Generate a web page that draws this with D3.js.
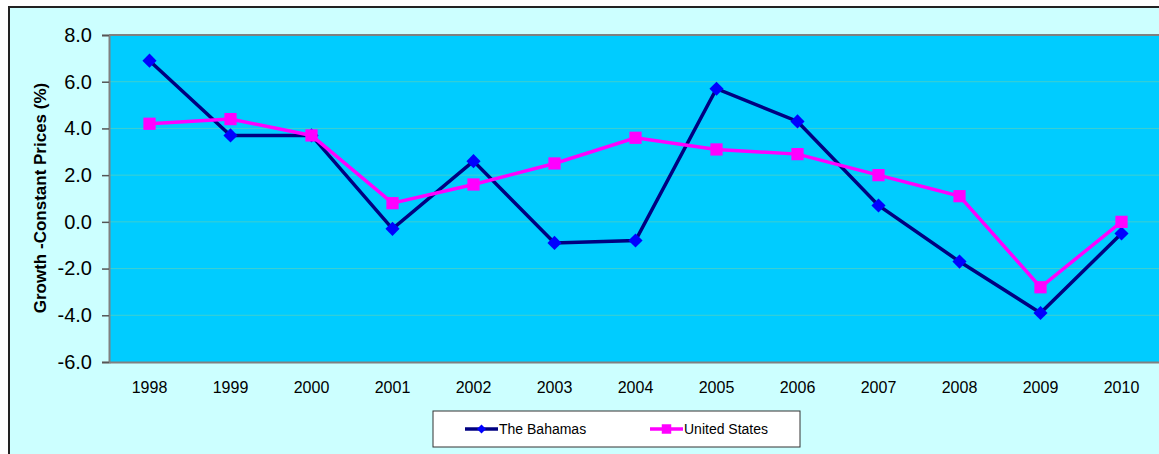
<!DOCTYPE html>
<html>
<head>
<meta charset="utf-8">
<script src="https://cdn.jsdelivr.net/npm/d3@7"></script>
<style>
  body{margin:0;padding:0;background:#fff;}
  svg{display:block;font-family:"Liberation Sans",Arial,sans-serif;}
</style>
</head>
<body>
<svg id="chart" width="1159" height="454"></svg>
<script>
// data
const years = ["1998","1999","2000","2001","2002","2003","2004","2005","2006","2007","2008","2009","2010"];
const bahamas = [6.9,3.7,3.7,-0.3,2.6,-0.9,-0.8,5.7,4.3,0.7,-1.7,-3.9,-0.5];
const unitedStates = [4.2,4.4,3.7,0.8,1.6,2.5,3.6,3.1,2.9,2.0,1.1,-2.8,0.0];
const yTicks = [-6,-4,-2,0,2,4,6,8];
const seriesNames = ["The Bahamas","United States"];

const svg = d3.select("#chart");

/* fondo exterior */
svg.append("rect").attr("x",9).attr("y",7).attr("width",1170).attr("height",460)
   .attr("fill","#CCFFFF").attr("stroke","#222").attr("stroke-width",2);

const pLeft = 109, pTop = 35, pBottom = 362, bandW = 81;
const pRight = pLeft + bandW*years.length;

const x = d3.scaleBand().domain(years).range([pLeft,pRight]);
const y = d3.scaleLinear().domain([-6,8]).range([pBottom,pTop]);

/* area del grafico */
svg.append("rect").attr("x",pLeft).attr("y",pTop).attr("width",pRight-pLeft).attr("height",pBottom-pTop)
   .attr("fill","#00CCFF");

svg.append("g").selectAll("line").data(yTicks.filter(d=>d>-6 && d<8)).join("line")
   .attr("x1",pLeft).attr("x2",pRight)
   .attr("y1",d=>y(d)).attr("y2",d=>y(d))
   .attr("stroke","#3FCFCF").attr("stroke-width",1);

svg.append("line").attr("x1",pLeft).attr("x2",pRight).attr("y1",pTop).attr("y2",pTop)
   .attr("stroke","#808080").attr("stroke-width",2);

// eje y (guion normal en vez del signo menos de d3)
const fmt = d3.format(".1f");
const yAxis = svg.append("g").attr("transform","translate("+pLeft+",0)")
   .call(d3.axisLeft(y).tickValues(yTicks).tickFormat(d=>fmt(d).replace("\u2212","-")).tickSize(7).tickPadding(10));
yAxis.select(".domain").attr("stroke","#808080").attr("stroke-width",2);
yAxis.selectAll(".tick line").attr("stroke","#555").attr("stroke-width",1.5);
yAxis.selectAll("text").attr("font-size",20).attr("fill","#000").attr("font-family","Liberation Sans, Arial, sans-serif");

// eje x
const xAxis = svg.append("g").attr("transform","translate(0,"+pBottom+")")
   .call(d3.axisBottom(x).tickSize(0).tickPadding(20));
xAxis.select(".domain").attr("stroke","#808080").attr("stroke-width",2);
xAxis.selectAll("text").attr("font-size",16).attr("fill","#000").attr("font-family","Liberation Sans, Arial, sans-serif");

svg.append("text").attr("transform","translate(46,198) rotate(-90)")
   .attr("text-anchor","middle").attr("font-weight","bold").attr("font-size",17)
   .text("Growth -Constant Prices (%)");

const cx = d => x(d) + x.bandwidth()/2;

function dibujarSerie(valores, colorLinea, colorMarca, rombo, tam){
    const linea = d3.line().x((d,i)=>cx(years[i])).y(d=>y(d));
    svg.append("path").datum(valores).attr("d",linea)
       .attr("fill","none").attr("stroke",colorLinea).attr("stroke-width",3.5);
    svg.append("g").selectAll("path").data(valores).join("path")
       .attr("d",d3.symbol().type(d3.symbolSquare).size(tam))
       .attr("transform",(d,i)=>"translate("+cx(years[i])+","+y(d)+")"+(rombo?" rotate(45)":""))
       .attr("fill",colorMarca);
}
dibujarSerie(bahamas,"#000080","#0000FF",true,100);
dibujarSerie(unitedStates,"#FF00FF","#FF00FF",false,150);

/* leyenda */
const leg = svg.append("g");
leg.append("rect").attr("x",433).attr("y",411).attr("width",367).attr("height",36)
   .attr("fill","#fff").attr("stroke","#333").attr("stroke-width",1);
const legX = [465,650];
const legCol = [["#000080","#0000FF"],["#FF00FF","#FF00FF"]];
seriesNames.forEach((n,i)=>{
    leg.append("line").attr("x1",legX[i]).attr("x2",legX[i]+33).attr("y1",429).attr("y2",429)
       .attr("stroke",legCol[i][0]).attr("stroke-width",3.5);
    leg.append("path").attr("d",d3.symbol().type(d3.symbolSquare).size(i===0?40:90))
       .attr("transform","translate("+(legX[i]+16.5)+",429)"+(i===0?" rotate(45)":""))
       .attr("fill",legCol[i][1]);
    leg.append("text").attr("x",legX[i]+34).attr("y",434).attr("font-size",14).text(n);
});
</script>
</body>
</html>
